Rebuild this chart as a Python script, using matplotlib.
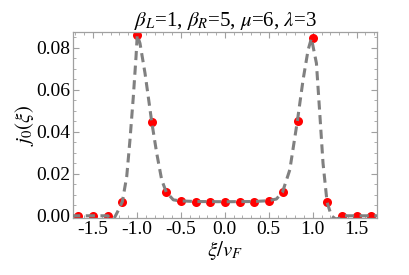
import matplotlib
matplotlib.use("Agg")
import matplotlib.pyplot as plt
from matplotlib.ticker import MultipleLocator

plt.rcParams['font.family'] = ['Liberation Serif', 'DejaVu Serif']
plt.rcParams['mathtext.fontset'] = 'stix'

# sampled points (red dots)
point_x = [-10/6, -9/6, -8/6, -7/6, -6/6, -5/6, -4/6, -3/6, -2/6, -1/6, 0.0,
           1/6, 2/6, 3/6, 4/6, 5/6, 6/6, 7/6, 8/6, 9/6, 10/6]
point_y = [0.0, 0.0, 0.0, 0.0068, 0.0862, 0.0449, 0.0112, 0.0071, 0.0068, 0.0068, 0.0068,
           0.0066, 0.0068, 0.0072, 0.0115, 0.0454, 0.0846, 0.0065, 0.0, 0.0, 0.0]

# dashed theory curve
curve_x = [-1.75, -1.45, -1.38, -1.333, -1.30, -1.26, -1.22, -1.167, -1.117, -1.080,
           -1.042, -1.011, -0.997, -0.966, -0.909, -0.872, -0.833, -0.776, -0.719,
           -0.667, -0.587, -0.511, -0.333, 0.0, 0.333, 0.5, 0.587, 0.656, 0.739,
           0.826, 0.890, 0.947, 0.985, 1.042, 1.080, 1.117, 1.163, 1.212, 1.26,
           1.30, 1.333, 1.45, 1.75]
curve_y = [0.0, 0.0, 0.0, 0.0, -0.0015, -0.0012, 0.002, 0.0067, 0.0187, 0.0362,
           0.0567, 0.0759, 0.0862, 0.0822, 0.0680, 0.0568, 0.0449, 0.0299, 0.0171,
           0.0113, 0.0076, 0.0071, 0.0068, 0.0067, 0.0068, 0.0072, 0.0080, 0.0113, 0.0219,
           0.0454, 0.0648, 0.0790, 0.0846, 0.0727, 0.0489, 0.0251, 0.0065, 0.0, -0.0015,
           -0.0012, 0.0, 0.0, 0.0]

title = r"$\beta_L$=1, $\beta_R$=5, $\mu$=6, $\lambda$=3"

fig = plt.figure(figsize=(4.09, 2.75), dpi=100)
ax = fig.add_axes([73.3/409, 1 - 218.3/275, (376.7 - 73.3)/409, (218.3 - 32)/275])

ax.plot(point_x, point_y, 'o', color='#ff0000', markersize=6.5, zorder=2, markeredgewidth=0)
ax.plot(curve_x, curve_y, '--', color='#808080', linewidth=2.2, dashes=(3.0, 1.8), zorder=3)

ax.set_xlim(-1.725, 1.728)
ax.set_ylim(-0.0012, 0.0876)

ax.xaxis.set_major_locator(MultipleLocator(0.5))
ax.xaxis.set_minor_locator(MultipleLocator(0.1))
ax.yaxis.set_major_locator(MultipleLocator(0.02))
ax.yaxis.set_minor_locator(MultipleLocator(0.005))
ax.yaxis.set_major_formatter(matplotlib.ticker.FormatStrFormatter('%.2f'))
ax.xaxis.set_major_formatter(matplotlib.ticker.FormatStrFormatter('%.1f'))

ax.tick_params(which='both', direction='in', top=True, right=True, color='#a0a0a0', labelsize=14, pad=2)
ax.tick_params(which='major', length=4, width=0.8)
ax.tick_params(which='minor', length=2, width=0.6)
for s in ax.spines.values():
    s.set_color('#a0a0a0')
    s.set_linewidth(0.9)

ax.set_title(title, fontsize=15, pad=4)
ax.set_xlabel(r"$\xi/v_F$", fontsize=15, labelpad=1)
ax.set_ylabel(r"$j_0(\xi)$", fontsize=15, labelpad=0)

fig.savefig("out.png", dpi=100)
